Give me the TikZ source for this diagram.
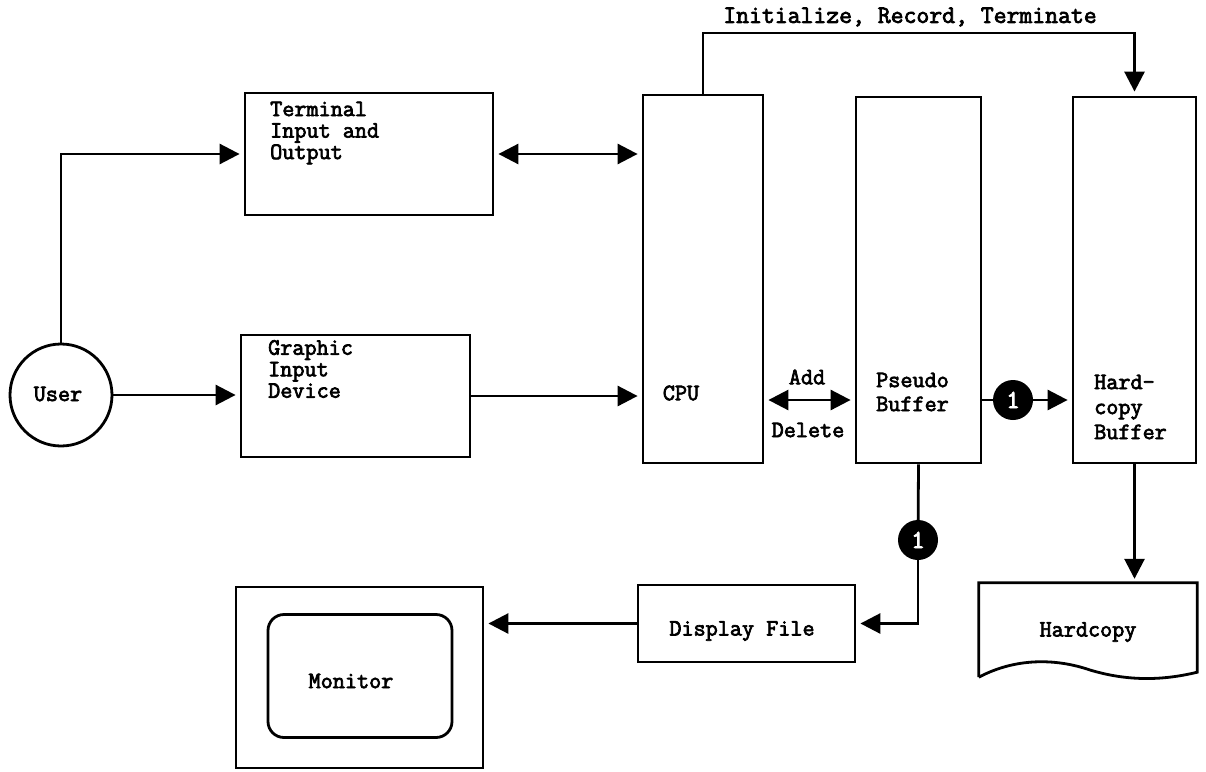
\documentclass[tikz,border=0pt]{standalone}
\usepackage{fontspec}
\setmonofont[AutoFakeBold=3]{Latin Modern Mono}
\usepackage{tikz}
\usetikzlibrary{
  arrows.meta,
  calc,
  positioning
}
\tikzset{>={Triangle[length=20pt,width=20pt]}}
\tikzset{
  blockbox/.style={draw,line width=2.8pt,inner sep=0pt},
  boxtext/.style={font=\ttfamily\bfseries\fontsize{23.5}{21.5}\selectfont,align=left,inner sep=0pt},
  arr/.style={->,line width=2.8pt,shorten >=4pt},
  dblarr/.style={<->,line width=2.8pt,shorten >=4pt,shorten <=4pt},
  plainline/.style={line width=2.8pt},
  marker/.style={circle,fill=black,minimum size=40pt,inner sep=0pt,text=white,font=\ttfamily\bfseries\fontsize{26}{26}\selectfont}
}

\begin{document}
\begin{tikzpicture}[x=1pt,y=-1pt]
				\useasboundingbox (0,0) rectangle (1206,771);
				\coordinate (topline) at (0,33);
				\coordinate (busrow) at (0,400);
				% blocks
				\node[blockbox,circle,minimum size=102pt] (user) at (61,395) {};
				\node[blockbox,minimum width=248pt,minimum height=122pt] (term) at (369,154) {};
				\node[blockbox,minimum width=229pt,minimum height=122pt] (graph) at (355.5,396) {};
				\node[blockbox,minimum width=120pt,minimum height=368pt] (cpu) at (703,279) {};
				\node[blockbox,minimum width=125pt,minimum height=366pt] (pseudo) at (918.5,280) {};
				\node[blockbox,minimum width=123pt,minimum height=366pt] (hbuf) at (1134.5,280) {};
				\node[blockbox,minimum width=217pt,minimum height=77pt] (disp) at (746.5,623.5) {};
				\node[blockbox,minimum width=247pt,minimum height=181pt] (mon) at (359.5,677.5) {};
				\node[blockbox,rounded corners=16pt,minimum width=184pt,minimum height=123pt] (screen) at (360,676) {};
				\node[inner sep=0pt,minimum width=218pt,minimum height=94pt] (hcopy) at (1088,630) {};
				\draw[plainline] (hcopy.south west) -- (hcopy.north west) -- (hcopy.north east) -- ($(hcopy.south east)+(0,-5)$)
					.. controls (1165,680) and (1130,682) .. (1090,670)
					.. controls (1055,658) and (1015,658) .. (hcopy.south west);
				% texts
				\node[boxtext] (usertext) at (58,394) {User};
				\node[boxtext,anchor=west] (termtext) at (270,133) {Terminal\\Input and\\Output};
				\node[boxtext,anchor=west] (graphtext) at (268,369) {Graphic\\Input\\Device};
				\node[boxtext] (cputext) at (681,393) {CPU};
				\node[boxtext,anchor=west,font=\ttfamily\bfseries\fontsize{23.5}{24}\selectfont] (pseudotext) at (876,392) {Pseudo\\Buffer};
				\node[boxtext,anchor=west,font=\ttfamily\bfseries\fontsize{23.5}{25}\selectfont] (hbuftext) at (1094,407) {Hard-\\copy\\Buffer};
				\node[boxtext] (disptext) at (742,631) {Display File};
				\node[boxtext] (montext) at (351,681) {Monitor};
				\node[boxtext] (hcopytext) at (1088,632) {Hardcopy};
				\node[boxtext,font=\ttfamily\bfseries\fontsize{25}{25}\selectfont] (cmdlabel) at (910,17) {Initialize, Record, Terminate};
				\node[boxtext] (addlbl) at (807,377) {Add};
				\node[boxtext] (dellbl) at (808,430) {Delete};
				% connectors
				\draw[arr] (user.north) |- (term.west);
				\draw[arr] (user.east) -- (user.east -| graph.west);
				\draw[arr] (graph.east) -- (graph.east -| cpu.west);
				\draw[dblarr] (term.east) -- (term.east -| cpu.west);
				\draw[dblarr] (cpu.east |- busrow) -- (pseudo.west |- busrow);
				\draw[arr] (cpu.north) -- (cpu.north |- topline) -| (hbuf.north);
				\node[marker] (mark1) at (1013,400) {1};
				\draw[plainline] (pseudo.east |- mark1) -- (mark1);
				\draw[arr] (mark1) -- (mark1 -| hbuf.west);
				\node[marker] (mark2) at (918,540) {1};
				\draw[plainline] (pseudo.south) -- (mark2);
				\draw[arr] (mark2) |- (disp.east);
				\draw[arr] (hbuf.south) -- (hbuf.south |- hcopy.north);
				\draw[arr] (disp.west) -- (disp.west -| mon.east);
			\end{tikzpicture}
\end{document}
